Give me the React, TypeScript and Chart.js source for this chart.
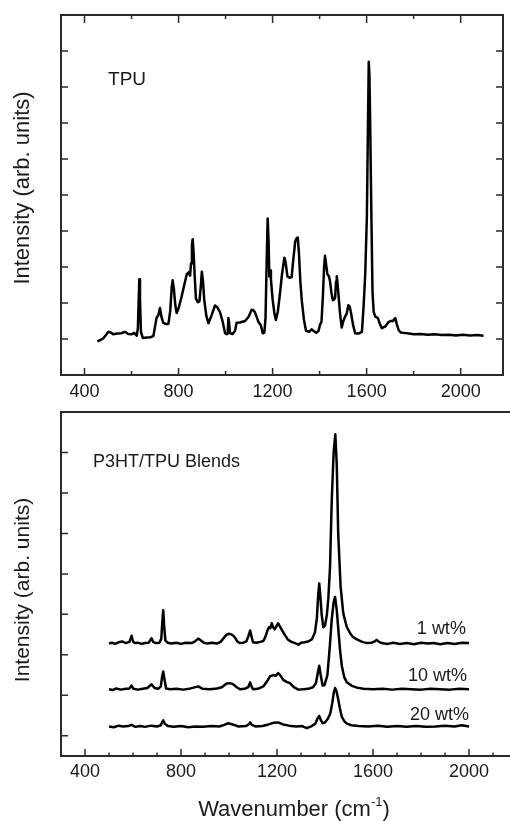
import React, { useEffect, useRef } from 'react';
import { Chart, registerables } from 'chart.js';

Chart.register(...registerables);

const FONT = "'Liberation Sans', Arial, Helvetica, sans-serif";
const INK = '#1a1a1a';

// ---------- Top panel: TPU ----------
const tpuWavenumber = [
  455, 466, 480, 492, 501, 512, 522, 540, 556, 572, 586, 600, 611, 622, 627, 631, 633, 636, 640, 648,
  665, 680, 693, 700, 707, 714, 721, 727, 735, 745, 757, 765, 771, 775, 780, 786, 792, 800, 813, 825,
  835, 843, 849, 853, 857, 860, 864, 869, 874, 882, 889, 895, 899, 904, 909, 918, 927, 940, 955, 965,
  976, 987, 998, 1005, 1009, 1012, 1015, 1019, 1030, 1040, 1047, 1060, 1083, 1098, 1111, 1118, 1125, 1133, 1140, 1150,
  1158, 1165, 1170, 1175, 1179, 1183, 1186, 1189, 1193, 1200, 1208, 1214, 1222, 1231, 1240, 1250, 1255, 1263, 1272, 1281,
  1288, 1296, 1302, 1307, 1312, 1318, 1324, 1333, 1342, 1355, 1366, 1375, 1385, 1395, 1402, 1408, 1414, 1419, 1423, 1428,
  1433, 1439, 1444, 1450, 1456, 1462, 1466, 1470, 1473, 1476, 1480, 1487, 1494, 1501, 1508, 1515, 1522, 1528, 1534, 1542,
  1551, 1565, 1580, 1587, 1594, 1601, 1605, 1609, 1612, 1615, 1620, 1625, 1630, 1637, 1648, 1656, 1665, 1680, 1693, 1703,
  1712, 1717, 1722, 1728, 1736, 1745, 1757, 1780, 1800, 1830, 1860, 1890, 1920, 1950, 1980, 2010, 2040, 2070, 2097,
];
const tpuIntensity = [
  -0.07, -0.03, 0.02, 0.12, 0.2, 0.18, 0.13, 0.15, 0.16, 0.2, 0.14, 0.13, 0.17, 0.09, 0.3, 1.2, 1.66, 1.1, 0.2, 0.03,
  0.04, 0.05, 0.08, 0.35, 0.6, 0.66, 0.86, 0.62, 0.45, 0.42, 0.42, 0.8, 1.45, 1.63, 1.4, 0.95, 0.72, 0.85, 1.18, 1.52,
  1.8, 1.85, 1.76, 2.1, 2.6, 2.77, 2.4, 1.7, 1.12, 1.02, 1.05, 1.5, 1.87, 1.6, 1.1, 0.65, 0.44, 0.65, 0.93, 0.88,
  0.75, 0.5, 0.16, 0.13, 0.15, 0.58, 0.45, 0.16, 0.14, 0.22, 0.45, 0.46, 0.5, 0.62, 0.81, 0.8, 0.74, 0.6, 0.47, 0.38,
  0.16, 0.18, 0.6, 2.2, 3.35, 2.7, 1.74, 1.9, 1.65, 1.1, 0.7, 0.53, 0.75, 1.24, 1.8, 2.26, 2.15, 1.74, 1.7, 1.72,
  2.2, 2.7, 2.8, 2.82, 2.4, 1.6, 1.08, 0.55, 0.23, 0.2, 0.27, 0.22, 0.17, 0.22, 0.4, 0.48, 1.2, 2.0, 2.31, 2.05,
  1.8, 1.75, 1.62, 1.3, 1.08, 1.1, 1.15, 1.6, 1.74, 1.55, 1.25, 0.7, 0.32, 0.5, 0.62, 0.7, 0.94, 0.9, 0.71, 0.4,
  0.16, 0.15, 0.2, 0.9, 1.8, 3.4, 5.6, 7.7, 7.3, 6.0, 3.5, 1.3, 0.75, 0.62, 0.58, 0.42, 0.3, 0.35, 0.47, 0.5,
  0.5, 0.55, 0.58, 0.42, 0.25, 0.18, 0.17, 0.15, 0.13, 0.14, 0.12, 0.13, 0.11, 0.12, 0.1, 0.12, 0.1, 0.11, 0.09,
];
const topXTicks = [400, 600, 800, 1000, 1200, 1400, 1600, 1800, 2000];
const topYTicks = [0, 1, 2, 3, 4, 5, 6, 7, 8];

// ---------- Bottom panel: P3HT/TPU blends ----------
const blend1Wavenumber = [
  500, 512, 525, 540, 555, 570, 585, 590, 594, 600, 608, 620, 635, 650, 665, 672, 677, 684, 695, 710,
  718, 722, 726, 730, 735, 745, 760, 780, 800, 820, 845, 860, 872, 882, 895, 910, 930, 950, 965, 980,
  990, 1000, 1012, 1022, 1035, 1046, 1060, 1072, 1080, 1088, 1094, 1100, 1115, 1130, 1143, 1152, 1160, 1166, 1172, 1178,
  1184, 1190, 1197, 1205, 1212, 1222, 1232, 1245, 1260, 1275, 1289, 1300, 1315, 1330, 1345, 1358, 1366, 1372, 1376, 1380,
  1386, 1393, 1400, 1408, 1414, 1421, 1428, 1436, 1443, 1449, 1455, 1465, 1476, 1490, 1504, 1515, 1533, 1555, 1575, 1595,
  1607, 1615, 1625, 1636, 1660, 1685, 1713, 1740, 1770, 1800, 1830, 1852, 1880, 1910, 1940, 1970, 2000,
];
const blend1Intensity = [
  2.28, 2.3, 2.27, 2.31, 2.33, 2.29, 2.32, 2.4, 2.47, 2.33, 2.29, 2.3, 2.27, 2.29, 2.3, 2.36, 2.41, 2.32, 2.29, 2.3,
  2.4, 2.8, 3.1, 2.7, 2.35, 2.3, 2.28, 2.3, 2.27, 2.3, 2.29, 2.34, 2.4, 2.36, 2.3, 2.28, 2.3, 2.28, 2.32, 2.43,
  2.5, 2.52, 2.5, 2.45, 2.33, 2.29, 2.3, 2.33, 2.45, 2.6, 2.45, 2.31, 2.3, 2.32, 2.34, 2.45, 2.6, 2.68, 2.66, 2.78,
  2.68, 2.63, 2.7, 2.78, 2.7, 2.6, 2.5, 2.38, 2.32, 2.29, 2.25, 2.3, 2.31, 2.33, 2.38, 2.55, 2.9, 3.5, 3.76, 3.5,
  3.0, 2.68, 2.72, 3.0, 3.4, 4.18, 5.8, 7.0, 7.45, 6.7, 5.0, 3.69, 3.03, 2.7, 2.54, 2.45, 2.38, 2.32, 2.29, 2.3,
  2.33, 2.37, 2.32, 2.29, 2.27, 2.3, 2.27, 2.29, 2.26, 2.3, 2.28, 2.29, 2.26, 2.29, 2.27, 2.3, 2.29,
];

const blend10Wavenumber = [
  500, 515, 530, 550, 570, 585, 594, 602, 620, 640, 660, 677, 690, 705, 716, 721, 726, 731, 738, 755,
  780, 810, 840, 872, 890, 920, 950, 970, 990, 1005, 1018, 1032, 1046, 1065, 1080, 1088, 1095, 1101, 1120, 1143,
  1158, 1171, 1185, 1195, 1205, 1215, 1226, 1240, 1254, 1270, 1289, 1310, 1330, 1350, 1362, 1370, 1376, 1382, 1390, 1398,
  1410, 1420, 1428, 1436, 1442, 1449, 1456, 1463, 1470, 1480, 1491, 1510, 1533, 1560, 1600, 1640, 1680, 1720, 1760, 1800,
  1840, 1880, 1920, 1960, 2000,
];
const blend10Intensity = [
  1.15, 1.13, 1.17, 1.14, 1.16, 1.17, 1.24, 1.16, 1.14, 1.16, 1.18, 1.27, 1.18, 1.16, 1.22, 1.45, 1.59, 1.4, 1.17, 1.15,
  1.16, 1.14, 1.17, 1.22, 1.16, 1.15, 1.17, 1.2, 1.29, 1.3, 1.27, 1.2, 1.15, 1.16, 1.2, 1.32, 1.2, 1.15, 1.16, 1.22,
  1.34, 1.47, 1.5, 1.48, 1.55, 1.48, 1.38, 1.33, 1.3, 1.2, 1.14, 1.15, 1.16, 1.2, 1.3, 1.55, 1.73, 1.5, 1.24, 1.25,
  1.5, 2.2, 2.87, 3.3, 3.43, 3.1, 2.6, 2.1, 1.73, 1.45, 1.32, 1.24, 1.19, 1.16, 1.15, 1.16, 1.14, 1.16, 1.15, 1.14,
  1.16, 1.15, 1.14, 1.16, 1.15,
];

const blend20Wavenumber = [
  500, 520, 540, 560, 580, 594, 610, 630, 650, 675, 700, 716, 721, 726, 732, 745, 770, 800, 830, 860,
  890, 930, 960, 980, 997, 1015, 1040, 1070, 1082, 1088, 1095, 1110, 1140, 1165, 1185, 1205, 1225, 1250, 1280, 1305,
  1324, 1345, 1360, 1368, 1376, 1383, 1390, 1400, 1412, 1422, 1430, 1437, 1442, 1448, 1455, 1462, 1470, 1480, 1491, 1510,
  1540, 1580, 1620, 1660, 1700, 1740, 1780, 1820, 1860, 1900, 1940, 1970, 2000,
];
const blend20Intensity = [
  0.23, 0.21, 0.25, 0.23, 0.24, 0.27, 0.22, 0.24, 0.22, 0.25, 0.23, 0.26, 0.33, 0.38, 0.3, 0.24, 0.22, 0.24, 0.21, 0.23,
  0.22, 0.24, 0.23, 0.27, 0.31, 0.28, 0.23, 0.24, 0.28, 0.33, 0.27, 0.23, 0.24, 0.28, 0.32, 0.33, 0.28, 0.25, 0.23, 0.24,
  0.19, 0.24, 0.3, 0.42, 0.49, 0.38, 0.31, 0.33, 0.42, 0.55, 0.8, 1.08, 1.18, 1.1, 0.9, 0.68, 0.47, 0.36, 0.3, 0.26,
  0.24, 0.23, 0.25, 0.22, 0.24, 0.22, 0.24, 0.22, 0.23, 0.25, 0.23, 0.26, 0.23,
];
const bottomXTicks = [400, 500, 600, 700, 800, 900, 1000, 1100, 1200, 1300, 1400, 1500, 1600, 1700, 1800, 1900, 2000, 2100];
const bottomYTicks = [0, 1, 2, 3, 4, 5, 6, 7];

const toPoints = (xs: number[], ys: number[]) => xs.map((x, i) => ({ x, y: ys[i] }));

type FrameCfg = {
  xTop: boolean;
  yRight: boolean;
  majorEvery: number;
  xBottomMajor: number;
  xBottomMinor: number;
  xTopMajor: number;
  xTopMinor: number;
  yLen: number;
};

const makeFramePlugin = (cfg: FrameCfg) => ({
  id: 'frame',
  afterDatasetsDraw(chart: any) {
    const { ctx, chartArea: a } = chart;
    const xs = chart.scales.x;
    const ys = chart.scales.y;
    ctx.save();
    ctx.strokeStyle = '#2a2a2a';
    ctx.lineWidth = 1.5;
    ctx.beginPath();
    for (const t of xs.ticks) {
      const px = xs.getPixelForValue(t.value);
      const major = t.value % cfg.majorEvery === 0;
      const lb = major ? cfg.xBottomMajor : cfg.xBottomMinor;
      ctx.moveTo(px, a.bottom);
      ctx.lineTo(px, a.bottom - lb);
      if (cfg.xTop) {
        const lt = major ? cfg.xTopMajor : cfg.xTopMinor;
        ctx.moveTo(px, a.top);
        ctx.lineTo(px, a.top + lt);
      }
    }
    for (const t of ys.ticks) {
      const py = ys.getPixelForValue(t.value);
      ctx.moveTo(a.left, py);
      ctx.lineTo(a.left + cfg.yLen, py);
      if (cfg.yRight) {
        ctx.moveTo(a.right, py);
        ctx.lineTo(a.right - cfg.yLen, py);
      }
    }
    ctx.stroke();
    ctx.lineWidth = 2;
    ctx.strokeRect(a.left, a.top, a.right - a.left, a.bottom - a.top);
    ctx.restore();
  },
});

type Label = { text: string; x: number; y: number; align: CanvasTextAlign; size: number };
type TextCfg = {
  yTitle: { text: string; cx: number; cy: number; size: number };
  labels: Label[];
  xTitle?: { main: string; sup: string; tail: string; cx: number; baseline: number; size: number; supSize: number; rise: number };
};

const makeTextPlugin = (cfg: TextCfg) => ({
  id: 'texts',
  afterDraw(chart: any) {
    const { ctx } = chart;
    const xs = chart.scales.x;
    const ys = chart.scales.y;
    ctx.save();
    ctx.fillStyle = INK;
    const t = cfg.yTitle;
    ctx.save();
    ctx.translate(t.cx, t.cy);
    ctx.rotate(-Math.PI / 2);
    ctx.font = `${t.size}px ${FONT}`;
    ctx.textAlign = 'center';
    ctx.textBaseline = 'middle';
    ctx.fillText(t.text, 0, 0);
    ctx.restore();
    for (const l of cfg.labels) {
      ctx.font = `${l.size}px ${FONT}`;
      ctx.textAlign = l.align;
      ctx.textBaseline = 'alphabetic';
      ctx.fillText(l.text, xs.getPixelForValue(l.x), ys.getPixelForValue(l.y));
    }
    if (cfg.xTitle) {
      const x = cfg.xTitle;
      ctx.textAlign = 'left';
      ctx.textBaseline = 'alphabetic';
      ctx.font = `${x.size}px ${FONT}`;
      const w1 = ctx.measureText(x.main).width;
      const w3 = ctx.measureText(x.tail).width;
      ctx.font = `${x.supSize}px ${FONT}`;
      const w2 = ctx.measureText(x.sup).width;
      let sx = x.cx - (w1 + w2 + w3) / 2;
      ctx.font = `${x.size}px ${FONT}`;
      ctx.fillText(x.main, sx, x.baseline);
      sx += w1;
      ctx.font = `${x.supSize}px ${FONT}`;
      ctx.fillText(x.sup, sx, x.baseline - x.rise);
      sx += w2;
      ctx.font = `${x.size}px ${FONT}`;
      ctx.fillText(x.tail, sx, x.baseline);
    }
    ctx.restore();
  },
});

const lineDataset = (xs: number[], ys: number[]) => ({
  data: toPoints(xs, ys),
  borderColor: '#000',
  borderWidth: 2.5,
  pointRadius: 0,
  tension: 0,
  fill: false,
  borderJoinStyle: 'round',
});

const tickFont = { family: FONT, size: 18, lineHeight: 1.2 };

export default function App() {
  const topRef = useRef<HTMLCanvasElement>(null);
  const botRef = useRef<HTMLCanvasElement>(null);

  useEffect(() => {
    const top = new Chart(topRef.current as HTMLCanvasElement, {
      type: 'line',
      data: { datasets: [lineDataset(tpuWavenumber, tpuIntensity)] as any },
      options: {
        responsive: false,
        animation: false,
        devicePixelRatio: 1,
        layout: { autoPadding: false, padding: { left: 0, right: 7, top: 15, bottom: 0 } },
        plugins: { legend: { display: false }, tooltip: { enabled: false } },
        scales: {
          x: {
            type: 'linear',
            min: 300,
            max: 2180,
            afterBuildTicks: (s: any) => { s.ticks = topXTicks.map((v) => ({ value: v })); },
            afterFit: (s: any) => { s.height = 25; },
            grid: { display: false, drawTicks: false },
            border: { display: false },
            ticks: {
              autoSkip: false,
              maxRotation: 0,
              padding: 6,
              color: INK,
              font: tickFont,
              callback: (v: any) => (Number(v) % 400 === 0 ? String(v) : ''),
            },
          },
          y: {
            type: 'linear',
            min: -1,
            max: 9,
            afterBuildTicks: (s: any) => { s.ticks = topYTicks.map((v) => ({ value: v })); },
            afterFit: (s: any) => { s.width = 61; },
            grid: { display: false, drawTicks: false },
            border: { display: false },
            ticks: { display: false },
          },
        },
      } as any,
      plugins: [
        makeFramePlugin({ xTop: true, yRight: true, majorEvery: 400, xBottomMajor: 7, xBottomMinor: 4, xTopMajor: 8, xTopMinor: 4, yLen: 7 }),
        makeTextPlugin({
          yTitle: { text: 'Intensity (arb. units)', cx: 23, cy: 188, size: 22 },
          labels: [{ text: 'TPU', x: 500, y: 7.06, align: 'left', size: 19 }],
        }),
      ],
    });

    const bot = new Chart(botRef.current as HTMLCanvasElement, {
      type: 'line',
      data: {
        datasets: [
          lineDataset(blend1Wavenumber, blend1Intensity),
          lineDataset(blend10Wavenumber, blend10Intensity),
          lineDataset(blend20Wavenumber, blend20Intensity),
        ] as any,
      },
      options: {
        responsive: false,
        animation: false,
        devicePixelRatio: 1,
        layout: { autoPadding: false, padding: { left: 0, right: 3, top: 12, bottom: 0 } },
        plugins: { legend: { display: false }, tooltip: { enabled: false } },
        scales: {
          x: {
            type: 'linear',
            min: 300,
            max: 2200,
            afterBuildTicks: (s: any) => { s.ticks = bottomXTicks.map((v) => ({ value: v })); },
            afterFit: (s: any) => { s.height = 65; },
            grid: { display: false, drawTicks: false },
            border: { display: false },
            ticks: {
              autoSkip: false,
              maxRotation: 0,
              padding: 5,
              color: INK,
              font: tickFont,
              callback: (v: any) => (Number(v) % 400 === 0 ? String(v) : ''),
            },
          },
          y: {
            type: 'linear',
            min: -0.5,
            max: 8,
            afterBuildTicks: (s: any) => { s.ticks = bottomYTicks.map((v) => ({ value: v })); },
            afterFit: (s: any) => { s.width = 61; },
            grid: { display: false, drawTicks: false },
            border: { display: false },
            ticks: { display: false },
          },
        },
      } as any,
      plugins: [
        makeFramePlugin({ xTop: false, yRight: true, majorEvery: 400, xBottomMajor: 7, xBottomMinor: 3.5, xTopMajor: 0, xTopMinor: 0, yLen: 7 }),
        makeTextPlugin({
          yTitle: { text: 'Intensity (arb. units)', cx: 23, cy: 190, size: 21 },
          labels: [
            { text: 'P3HT/TPU Blends', x: 433, y: 6.65, align: 'left', size: 18 },
            { text: '1 wt%', x: 1987, y: 2.52, align: 'right', size: 18 },
            { text: '10 wt%', x: 1992, y: 1.36, align: 'right', size: 18 },
            { text: '20 wt%', x: 2000, y: 0.4, align: 'right', size: 18 },
          ],
          xTitle: { main: 'Wavenumber (cm', sup: '-1', tail: ')', cx: 294, baseline: 416, size: 22, supSize: 13, rise: 10 },
        }),
      ],
    });

    return () => {
      top.destroy();
      bot.destroy();
    };
  }, []);

  return (
    <div style={{ position: 'absolute', left: 0, top: 0, width: 510, height: 821, overflow: 'hidden', background: '#fff' }}>
      <canvas ref={topRef} width={510} height={400} style={{ position: 'absolute', left: 0, top: 0 }} />
      <canvas ref={botRef} width={520} height={421} style={{ position: 'absolute', left: 0, top: 400 }} />
    </div>
  );
}
